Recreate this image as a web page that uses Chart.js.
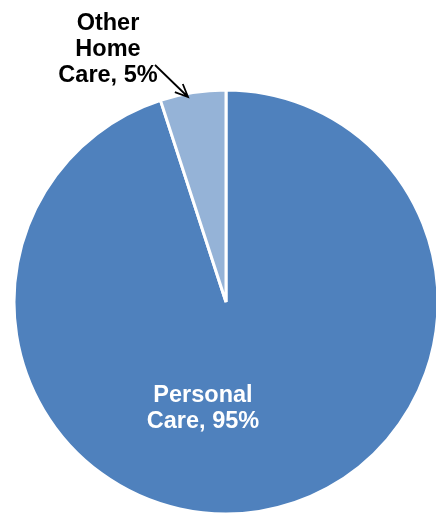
<!DOCTYPE html>
<html>
<head>
<meta charset="utf-8">
<script src="https://cdn.jsdelivr.net/npm/chart.js@4"></script>
<style>
html,body{margin:0;padding:0;background:#fff;overflow:hidden;}
#wrap{position:relative;width:436px;height:513px;}
</style>
</head>
<body>
<div id="wrap"><canvas id="c" width="436" height="513"></canvas></div>
<script>
const categories = ["Personal Care", "Other Home Care"];
const values = [95, 5];
const labelLines = [["Personal", "Care, 95%"], ["Other", "Home", "Care, 5%"]];
const colors = ["#4F81BD", "#95B3D7"];

const labelPlugin = {
  id: 'labels',
  afterDatasetsDraw(chart) {
    const ctx = chart.ctx;
    const meta = chart.getDatasetMeta(0);
    const arc0 = meta.data[0];
    const cx = arc0.x, cy = arc0.y;
    ctx.save();
    ctx.font = 'bold 23.5px "Liberation Sans", Arial, sans-serif';
    ctx.textAlign = 'center';
    ctx.textBaseline = 'alphabetic';
    // Personal Care label (inside)
    ctx.fillStyle = '#ffffff';
    const p = labelLines[0];
    p.forEach((t, i) => ctx.fillText(t, cx - 23, cy + 100 + i * 26));
    // Other Home Care label (outside)
    ctx.fillStyle = '#000000';
    const o = labelLines[1];
    o.forEach((t, i) => ctx.fillText(t, cx - 118, cy - 272 + i * 26));
    // arrow
    const x1 = cx - 71, y1 = cy - 237, x2 = cx - 38, y2 = cy - 205;
    ctx.strokeStyle = '#000';
    ctx.lineWidth = 1.8;
    ctx.beginPath();
    ctx.moveTo(x1, y1);
    ctx.lineTo(x2, y2);
    const ang = Math.atan2(y2 - y1, x2 - x1);
    const hl = 14, ha = 0.42;
    ctx.moveTo(x2 - hl * Math.cos(ang - ha), y2 - hl * Math.sin(ang - ha));
    ctx.lineTo(x2, y2);
    ctx.lineTo(x2 - hl * Math.cos(ang + ha), y2 - hl * Math.sin(ang + ha));
    ctx.stroke();
    ctx.restore();
  }
};

new Chart(document.getElementById('c'), {
  type: 'pie',
  data: {
    labels: categories,
    datasets: [{
      data: values,
      backgroundColor: colors,
      borderColor: '#ffffff',
      borderWidth: 3,
      radius: 212
    }]
  },
  options: {
    responsive: false,
    animation: false,
    events: [],
    layout: { padding: { left: 16, right: 0, top: 91, bottom: 0 } },
    plugins: { legend: { display: false }, tooltip: { enabled: false } }
  },
  plugins: [labelPlugin]
});
</script>
</body>
</html>
